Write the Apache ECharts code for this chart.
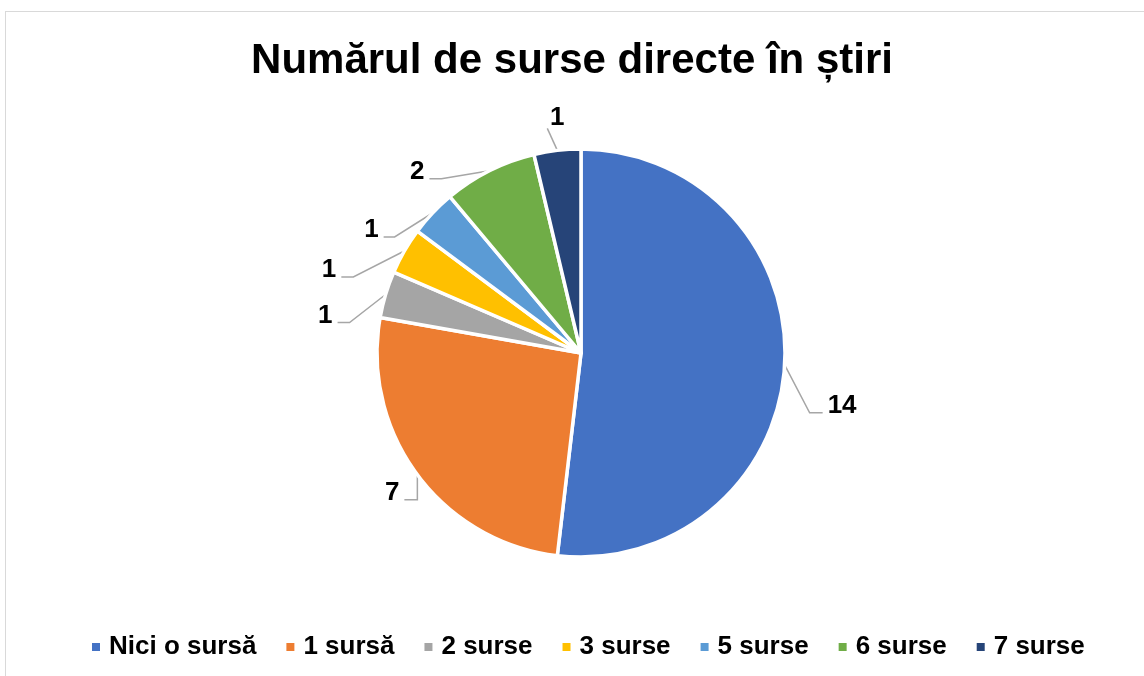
<!DOCTYPE html>
<html>
<head>
<meta charset="utf-8">
<script src="https://cdn.jsdelivr.net/npm/echarts@6/dist/echarts.min.js"></script>
<style>
  html, body { margin: 0; padding: 0; background: #fff; }
  #frame {
    position: absolute; left: 5px; top: 11px;
    width: 1160px; height: 690px;
    border: 1px solid #d9d9d9; box-sizing: border-box;
  }
  #chart { position: absolute; left: 0; top: 0; width: 1144px; height: 676px; }
</style>
</head>
<body>
<div id="frame"></div>
<div id="chart"></div>
<script>
const categories = ['Nici o sursă', '1 sursă', '2 surse', '3 surse', '5 surse', '6 surse', '7 surse']
const values = [14, 7, 1, 1, 1, 2, 1]
const colors = ['#4472C4', '#ED7D31', '#A5A5A5', '#FFC000', '#5B9BD5', '#70AD47', '#264478']

// leader line shape per slice (like Excel places them): [dx, dy, horizontal run]
const leaders = [[25, 48, 13], [0, 25, -13], [-36, 28, -12], [-51, 26, -12], [-38, 24, -11], [-48, 8, -12], [-10, -22, 0]]

const chart = echarts.init(document.getElementById('chart'))
const font = '"Liberation Sans", Arial, sans-serif'

const option = {
  animation: false,
  color: colors,
  title: {
    text: 'Numărul de surse directe în știri',
    left: 'center',
    top: 35,
    textStyle: { fontFamily: font, fontSize: 42, fontWeight: 'bold', color: '#000' }
  },
  legend: {
    data: categories,
    bottom: 11,
    left: 85,
    icon: 'rect',
    itemWidth: 10,
    itemHeight: 10,
    itemGap: 28,
    textStyle: { fontFamily: font, fontSize: 26, fontWeight: 'bold', color: '#000', padding: [0, 0, 0, 3] }
  },
  series: [
    {
      type: 'pie',
      center: [581, 353],
      radius: 204,
      startAngle: 90,
      clockwise: true,
      itemStyle: { borderColor: '#fff', borderWidth: 3.5 },
      label: {
        show: true,
        formatter: '{c}',
        fontFamily: font,
        fontSize: 26,
        fontWeight: 'bold',
        color: '#000'
      },
      labelLine: {
        show: true,
        length: 20,
        length2: 12,
        lineStyle: { color: '#a6a6a6', width: 1.5 }
      },
      labelLayout: function (params) {
        const p = params.labelLinePoints[0]
        const l = leaders[params.dataIndex]
        const elbow = [p[0] + l[0], p[1] + l[1]]
        const end = [elbow[0] + l[2], elbow[1]]
        if (l[2] === 0) {
          return {
            x: end[0] + 10, y: end[1] - 11, align: 'center', verticalAlign: 'middle',
            labelLinePoints: [p, elbow, end]
          }
        }
        const right = l[2] > 0
        return {
          x: end[0] + (right ? 5 : -5),
          y: end[1] - 7,
          align: right ? 'left' : 'right',
          verticalAlign: 'middle',
          labelLinePoints: [p, elbow, end]
        }
      },
      emphasis: { disabled: true },
      data: categories.map((name, i) => ({ name: name, value: values[i] }))
    }
  ]
}

chart.setOption(option)
</script>
</body>
</html>
